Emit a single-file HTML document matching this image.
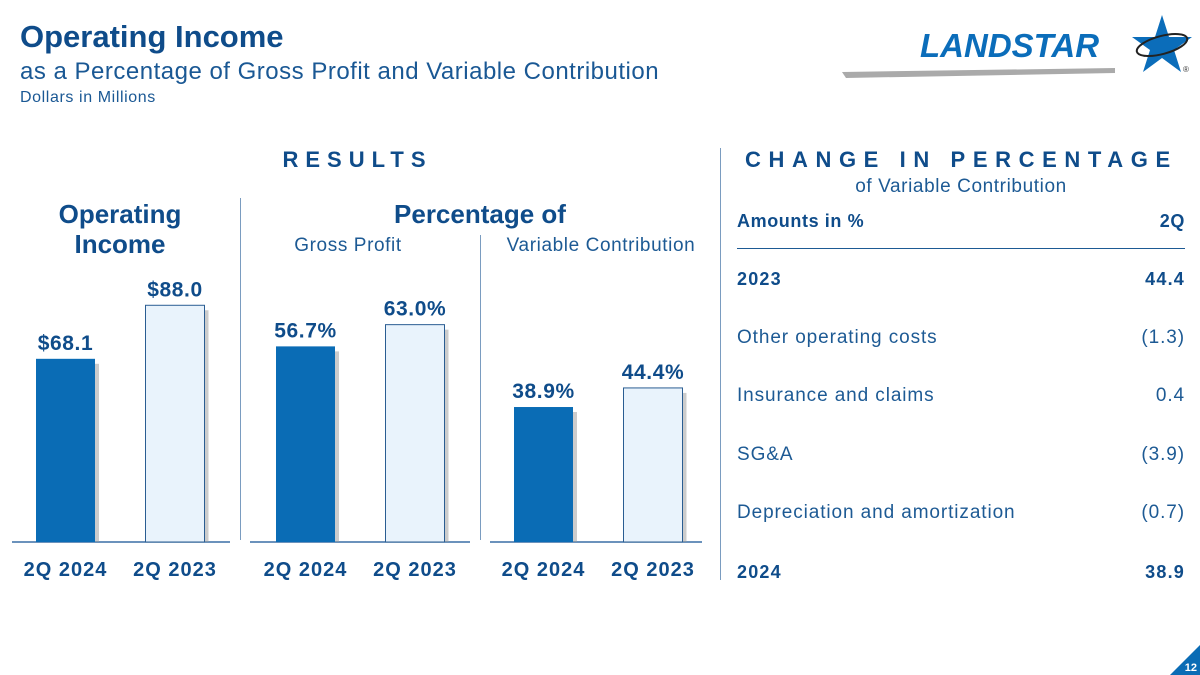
<!DOCTYPE html>
<html><head><meta charset="utf-8"><style>
body{margin:0;width:1200px;height:675px;background:#fff;position:relative;overflow:hidden;font-family:"Liberation Sans",sans-serif;color:#0f4c8a}
.a{position:absolute;white-space:nowrap}
.b{font-weight:bold}
.lt{color:#1d5a94}
</style></head><body>
<div class="a b" style="left:20px;top:19px;font-size:31px;color:#0f4c8a">Operating Income</div>
<div class="a" style="left:20px;top:58px;font-size:24px;letter-spacing:0.5px;color:#1a5894">as a Percentage of Gross Profit and Variable Contribution</div>
<div class="a" style="left:20px;top:89px;font-size:16px;letter-spacing:0.6px;color:#1a5894">Dollars in Millions</div>
<svg class="a" style="left:840px;top:10px" width="360" height="70" viewBox="0 0 360 70">
<polygon points="2,62 275,58 275,63 6,68" fill="#aaa"/>
<text x="80" y="47" font-family="Liberation Sans" font-weight="bold" font-style="italic" font-size="33" fill="#0b6dba">LANDSTAR</text>
<polygon points="322,5 329,27 352,27 334,40 341,62 322,48 303,62 310,40 292,27 315,27" fill="#0b6dba"/>
<ellipse cx="322" cy="35" rx="26" ry="9" fill="none" stroke="#222" stroke-width="2" transform="rotate(-15 322 35)"/>
<text x="343" y="62" font-size="8" fill="#333">®</text>
</svg>
<div class="a b" style="left:240px;top:147px;width:235px;text-align:center;font-size:22px;letter-spacing:7px">RESULTS</div>
<div class="a b" style="left:745px;top:147px;font-size:22px;letter-spacing:7.6px">CHANGE IN PERCENTAGE</div>
<div class="a lt" style="left:737px;top:176px;width:448px;text-align:center;font-size:19px;letter-spacing:0.6px">of Variable Contribution</div>
<div class="a b" style="left:20px;top:199px;width:200px;text-align:center;font-size:26px;line-height:30px">Operating<br>Income</div>
<div class="a b" style="left:300px;top:199px;width:360px;text-align:center;font-size:26px">Percentage of</div>
<div class="a lt" style="left:238px;top:235px;width:220px;text-align:center;font-size:19px;letter-spacing:0.6px">Gross Profit</div>
<div class="a lt" style="left:491px;top:235px;width:220px;text-align:center;font-size:19px;letter-spacing:0.6px">Variable Contribution</div>
<div class="a" style="left:240px;top:198px;width:1px;height:342px;background:#7a9cc0"></div>
<div class="a" style="left:480px;top:235px;width:1px;height:305px;background:#7a9cc0"></div>
<div class="a" style="left:720px;top:148px;width:1px;height:432px;background:#7a9cc0"></div>
<svg class="a" id="chart" style="left:0;top:0" width="720" height="600"></svg>
<div class="a b" style="left:737px;top:211px;font-size:18px;letter-spacing:0.6px">Amounts in %</div>
<div class="a b" style="left:1110px;top:211px;width:75px;text-align:right;font-size:18px;letter-spacing:0.6px">2Q</div>
<div class="a" style="left:737px;top:248px;width:448px;height:1px;background:#1d5a94"></div>
<div id="tbl"></div>
<script>
const categories=["2Q 2024","2Q 2023"];
const opIncome=[68.1,88.0];
const opLabels=["$68.1","$88.0"];
const grossPct=[56.7,63.0];
const grossLabels=["56.7%","63.0%"];
const varPct=[38.9,44.4];
const varLabels=["38.9%","44.4%"];
const rowLabels=["2023","Other operating costs","Insurance and claims","SG&A","Depreciation and amortization","2024"];
const rowValues=["44.4","(1.3)","0.4","(3.9)","(0.7)","38.9"];
const ns="http://www.w3.org/2000/svg";
const svg=document.getElementById('chart');
const base=542;
function mk(t,a){const e=document.createElementNS(ns,t);for(const k in a)e.setAttribute(k,a[k]);svg.appendChild(e);return e;}
const panels=[{vals:opIncome,labs:opLabels,x0:36,scale:2.69,lx:12,lw:218,name:'operating-income'},
{vals:grossPct,labs:grossLabels,x0:276,scale:3.45,lx:250,lw:220,name:'gross-profit'},
{vals:varPct,labs:varLabels,x0:514,scale:3.47,lx:490,lw:212,name:'variable-contribution'}];
panels.forEach(p=>{
 const ax=mk('line',{x1:p.lx,x2:p.lx+p.lw,y1:base,y2:base,stroke:'#3a6ea5','stroke-width':1.5});
 
 
 p.vals.forEach((v,i)=>{
  const x=p.x0+i*109.5,h=v*p.scale,y=base-h;
  const sh=mk('rect',{x:x+4,y:y+5,width:59,height:h-5,fill:'#999',opacity:0.5});
  
  
  const r=mk('rect',{x:x,y:y,width:59,height:h,fill:i==0?'#0a6cb5':'#e9f3fc',stroke:i==0?'none':'#2a5d92','stroke-width':1});
  
  
  const t=mk('text',{x:x+29.5,y:y-9,'text-anchor':'middle','font-size':21,'letter-spacing':0.6,'font-weight':'bold',fill:'#0f4c8a','font-family':'Liberation Sans'});
  t.textContent=p.labs[i];
  
  
  const c=mk('text',{x:x+29.5,y:576,'text-anchor':'middle','font-size':20,'letter-spacing':1,'font-weight':'bold',fill:'#0f4c8a','font-family':'Liberation Sans'});
  c.textContent=categories[i];
  
  
 });
});
const tbl=document.getElementById('tbl');
rowLabels.forEach((l,i)=>{
 const bold=(i==0||i==5), y=(bold?269:268)+i*58.5;
 const a=document.createElement('div');a.className='a'+(bold?' b':' lt');
 a.style.cssText=`left:737px;top:${y}px;font-size:${bold?18:19}px;letter-spacing:${bold?1.2:0.9}px`;a.textContent=l;
 
 
 const b=document.createElement('div');b.className='a'+(bold?' b':' lt');
 b.style.cssText=`left:1085px;width:100px;text-align:right;top:${y}px;font-size:${bold?18:19}px;letter-spacing:${bold?1.2:0.9}px`;b.textContent=rowValues[i];
 
 
 tbl.appendChild(a);tbl.appendChild(b);
});
</script>
<svg class="a" style="left:1170px;top:645px" width="30" height="30"><polygon points="30,0 30,30 0,30" fill="#0a6cb5"/><text x="27" y="26" text-anchor="end" font-size="11" font-weight="bold" fill="#fff" font-family="Liberation Sans">12</text></svg>
</body></html>
